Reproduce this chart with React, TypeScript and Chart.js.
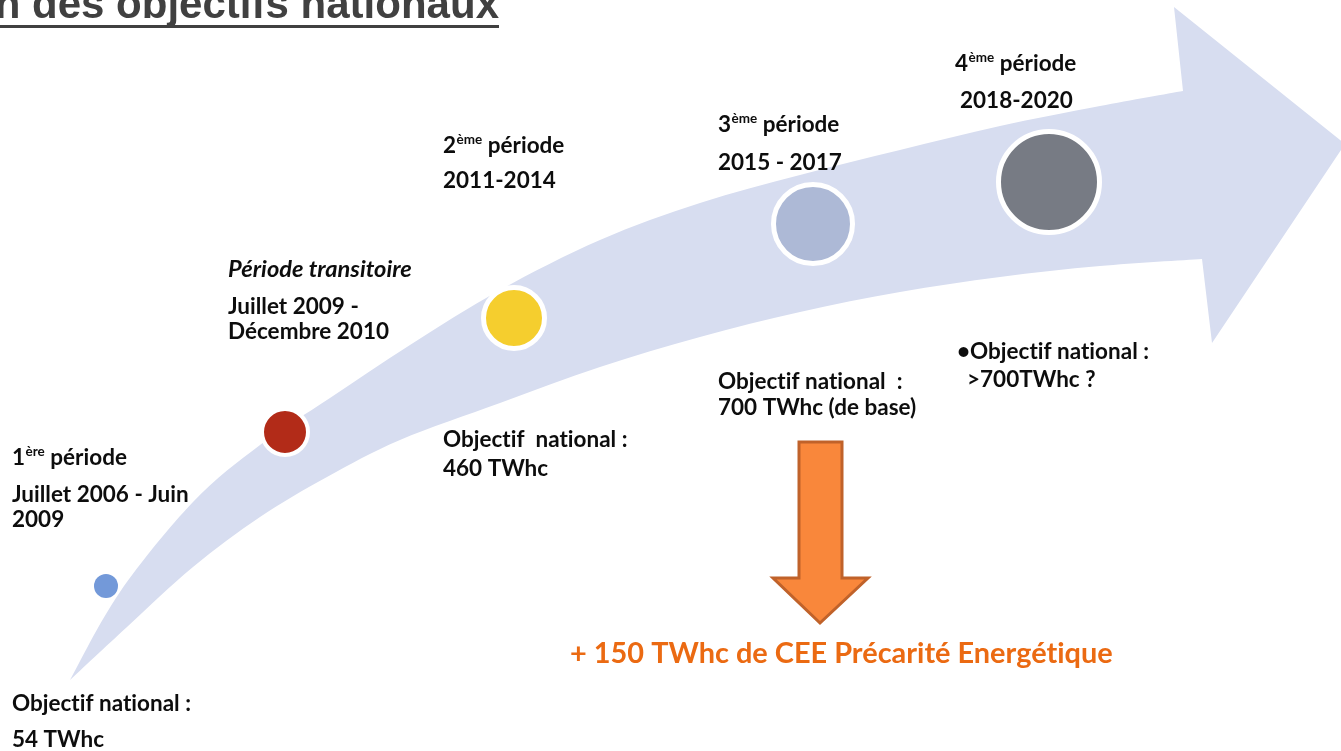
import React, { useEffect, useRef } from 'react';
import { Chart, registerables } from 'chart.js';

Chart.register(...registerables);

const W = 1341;
const H = 751;

// ---- Data ----
// Curved arrow (band) edges, in slide coordinates
const bandUpperX = [70, 120, 193, 260, 330, 410, 500, 600, 700, 800, 900, 1000, 1100, 1183];
const bandUpperY = [680, 592, 502, 445, 398, 345, 290, 240, 203, 175, 150, 126, 106, 91];
const bandLowerX = [70, 127, 193, 260, 327, 400, 500, 600, 700, 800, 900, 1000, 1100, 1202];
const bandLowerY = [680, 627, 567, 517, 477, 440, 403, 367, 337, 312, 292, 277, 266, 259];
const arrowHeadX = [1174, 1345, 1212];
const arrowHeadY = [7, 144, 343];

// Period markers
const periodX = [106, 285, 514, 813, 1049];
const periodY = [586, 432, 318, 224, 182];
const periodSize = [12, 23, 30.5, 39.5, 50.5];
const periodColors = ['#7399D9', '#B22B18', '#F5CE2E', '#ADB9D6', '#777B84'];

// Labels
const periodNumbers = ['1', '', '2', '3', '4'];
const periodSuffix = ['ère', '', 'ème', 'ème', 'ème'];
const transitionLabel = 'Période transitoire';
const periodDates = [
  ['Juillet 2006 - Juin', '2009'],
  ['Juillet 2009 -', 'Décembre 2010'],
  ['2011-2014'],
  ['2015 - 2017'],
  ['2018-2020'],
];
const objectives = [
  ['Objectif national :', '54 TWhc'],
  [],
  ['Objectif  national :', '460 TWhc'],
  ['Objectif national  :', '700 TWhc (de base)'],
  ['•Objectif national :', '>700TWhc ?'],
];
const titleText = 'n des objectifs nationaux';
const bonusText = '+ 150 TWhc de CEE Précarité Energétique';

// Orange down arrow outline
const downArrowX = [799, 842, 842, 868, 820, 773, 799];
const downArrowY = [442, 442, 578, 578, 623, 578, 578];

// ---- Layout (text anchors: left x, baselines) ----
const titleLayout = [
  { x: 12, y: 465 },
  { x: 228, y: 277 },
  { x: 443, y: 153 },
  { x: 718, y: 132 },
  { x: 955, y: 71 },
];
const datesLayout = [
  [{ x: 12, y: 502 }, { x: 12, y: 527 }],
  [{ x: 228, y: 314 }, { x: 228, y: 339 }],
  [{ x: 443, y: 188 }],
  [{ x: 718, y: 170 }],
  [{ x: 960, y: 108 }],
];
const objLayout = [
  [{ x: 12, y: 711 }, { x: 12, y: 747 }],
  [],
  [{ x: 443, y: 447 }, { x: 443, y: 476 }],
  [{ x: 718, y: 389 }, { x: 718, y: 415 }],
  [{ x: 957, y: 359 }, { x: 967, y: 387 }],
];

function splineThrough(ctx: CanvasRenderingContext2D, pts: number[][], startWithMove: boolean) {
  if (startWithMove) ctx.moveTo(pts[0][0], pts[0][1]);
  else ctx.lineTo(pts[0][0], pts[0][1]);
  for (let i = 0; i < pts.length - 1; i++) {
    const p0 = pts[i - 1] || pts[i];
    const p1 = pts[i];
    const p2 = pts[i + 1];
    const p3 = pts[i + 2] || pts[i + 1];
    const c1x = p1[0] + (p2[0] - p0[0]) / 6;
    const c1y = p1[1] + (p2[1] - p0[1]) / 6;
    const c2x = p2[0] - (p3[0] - p1[0]) / 6;
    const c2y = p2[1] - (p3[1] - p1[1]) / 6;
    ctx.bezierCurveTo(c1x, c1y, c2x, c2y, p2[0], p2[1]);
  }
}

const bandPlugin = {
  id: 'bandPlugin',
  beforeDatasetsDraw(chart: any) {
    const { ctx, scales } = chart;
    const sx = (v: number) => scales.x.getPixelForValue(v);
    const sy = (v: number) => scales.y.getPixelForValue(v);
    const upper = bandUpperX.map((x, i) => [sx(x), sy(bandUpperY[i])]);
    const lower = bandLowerX.map((x, i) => [sx(x), sy(bandLowerY[i])]).reverse();
    ctx.save();
    ctx.beginPath();
    splineThrough(ctx, upper, true);
    arrowHeadX.forEach((x, i) => ctx.lineTo(sx(x), sy(arrowHeadY[i])));
    splineThrough(ctx, lower, false);
    ctx.closePath();
    ctx.fillStyle = '#D7DDF0';
    ctx.fill();
    ctx.restore();
  },
};

const textPlugin = {
  id: 'textPlugin',
  afterDatasetsDraw(chart: any) {
    const { ctx, scales } = chart;
    const sx = (v: number) => scales.x.getPixelForValue(v);
    const sy = (v: number) => scales.y.getPixelForValue(v);
    ctx.save();
    ctx.textBaseline = 'alphabetic';
    ctx.textAlign = 'left';
    try { (ctx as any).letterSpacing = '0.01px'; } catch (e) { /* ignore */ }

    // calibrate label font size
    ctx.font = 'bold 20px Lato';
    const fs = (20 * 179) / ctx.measureText('Objectif national :').width;
    const bold = `bold ${fs.toFixed(2)}px Lato`;
    const supFont = `bold ${(fs * 0.6).toFixed(2)}px Lato`;
    ctx.font = 'italic bold 20px Lato';
    const ifs = (20 * 184) / ctx.measureText(transitionLabel).width;
    ctx.fillStyle = '#0D0D0D';

    periodNumbers.forEach((num, i) => {
      const p = titleLayout[i];
      if (num === '') {
        ctx.font = `italic bold ${ifs.toFixed(2)}px Lato`;
        ctx.fillText(transitionLabel, p.x, p.y);
      } else {
        ctx.font = bold;
        ctx.fillText(num, p.x, p.y);
        let x = p.x + ctx.measureText(num).width + 0.5;
        ctx.font = supFont;
        ctx.fillText(periodSuffix[i], x, p.y - fs * 0.4);
        x += ctx.measureText(periodSuffix[i]).width;
        ctx.font = bold;
        ctx.fillText(' période', x, p.y);
      }
      ctx.font = bold;
      periodDates[i].forEach((line, j) => {
        const q = datesLayout[i][j];
        ctx.fillText(line, q.x, q.y);
      });
      objectives[i].forEach((line, j) => {
        const q = objLayout[i][j];
        ctx.fillText(line, q.x, q.y);
      });
    });

    // Title (top, partially cut)
    ctx.font = 'bold 42px "Liberation Sans"';
    ctx.fillStyle = '#404040';
    ctx.textAlign = 'right';
    ctx.fillText(titleText, 499, 18);
    ctx.fillRect(0, 25, 499, 3);
    ctx.textAlign = 'left';

    // Orange arrow
    ctx.beginPath();
    downArrowX.forEach((x, i) => {
      if (i === 0) ctx.moveTo(sx(x), sy(downArrowY[i]));
      else ctx.lineTo(sx(x), sy(downArrowY[i]));
    });
    ctx.closePath();
    ctx.fillStyle = '#F9873B';
    ctx.fill();
    ctx.lineWidth = 3;
    ctx.lineJoin = 'miter';
    ctx.strokeStyle = '#C0622A';
    ctx.stroke();

    // Orange text
    ctx.font = 'bold 20px Lato';
    const ofs = (20 * 543) / ctx.measureText(bonusText).width;
    ctx.font = `bold ${ofs.toFixed(2)}px Lato`;
    ctx.fillStyle = '#EB6A12';
    ctx.fillText(bonusText, 570, 663);
    ctx.restore();
  },
};

export default function App() {
  const ref = useRef<HTMLCanvasElement>(null);
  useEffect(() => {
    if (!ref.current) return;
    const chart = new Chart(ref.current, {
      type: 'bubble',
      data: {
        datasets: [
          {
            data: periodX.map((x, i) => ({ x, y: periodY[i], r: periodSize[i] })),
            backgroundColor: periodColors,
            borderColor: '#FFFFFF',
            borderWidth: [0, 4, 5, 5, 5],
            hoverRadius: 0,
            clip: false,
          },
        ],
      },
      options: {
        responsive: false,
        animation: false,
        events: [],
        layout: { padding: 0, autoPadding: false },
        plugins: { legend: { display: false }, tooltip: { enabled: false } },
        scales: {
          x: { type: 'linear', min: 0, max: W, display: false },
          y: { type: 'linear', min: 0, max: H, reverse: true, display: false },
        },
      },
      plugins: [bandPlugin, textPlugin],
    } as any);
    return () => chart.destroy();
  }, []);
  return (
    <div style={{ position: 'fixed', left: 0, top: 0, width: W, height: H, background: '#FFFFFF' }}>
      <canvas ref={ref} width={W} height={H} style={{ display: 'block' }} />
    </div>
  );
}
